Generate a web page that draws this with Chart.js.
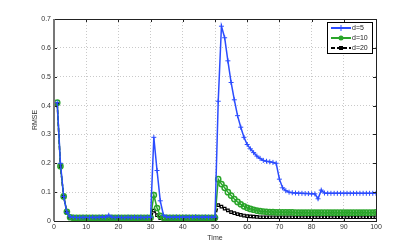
<!DOCTYPE html>
<html>
<head>
<meta charset="utf-8">
<script src="https://cdn.jsdelivr.net/npm/chart.js@4.4.0/dist/chart.umd.min.js"></script>
<style>
  html, body { margin: 0; padding: 0; background: #fff; }
  #wrap { width: 415px; height: 249px; }
</style>
</head>
<body>
<div id="wrap"><canvas id="rmse-chart" width="415" height="249"></canvas></div>
<script>
const timeSteps = [
    1, 2, 3, 4, 5, 6, 7, 8, 9, 10, 11, 12, 13, 14, 15, 16, 17, 18, 19, 20,
    21, 22, 23, 24, 25, 26, 27, 28, 29, 30, 31, 32, 33, 34, 35, 36, 37, 38, 39, 40,
    41, 42, 43, 44, 45, 46, 47, 48, 49, 50, 51, 52, 53, 54, 55, 56, 57, 58, 59, 60,
    61, 62, 63, 64, 65, 66, 67, 68, 69, 70, 71, 72, 73, 74, 75, 76, 77, 78, 79, 80,
    81, 82, 83, 84, 85, 86, 87, 88, 89, 90, 91, 92, 93, 94, 95, 96, 97, 98, 99, 100
];

const seriesNames = ['d=5', 'd=10', 'd=20'];

const rmseD5 = [
    0.41, 0.20, 0.085, 0.03, 0.015, 0.013, 0.012, 0.012, 0.013, 0.012,
    0.012, 0.013, 0.012, 0.013, 0.014, 0.013, 0.02, 0.013, 0.012, 0.013,
    0.012, 0.012, 0.013, 0.012, 0.013, 0.012, 0.013, 0.012, 0.013, 0.013,
    0.29, 0.175, 0.07, 0.02, 0.014, 0.013, 0.013, 0.014, 0.013, 0.013,
    0.014, 0.013, 0.013, 0.015, 0.013, 0.013, 0.014, 0.013, 0.013, 0.013,
    0.415, 0.675, 0.635, 0.555, 0.48, 0.42, 0.365, 0.325, 0.29, 0.265,
    0.25, 0.237, 0.225, 0.217, 0.21, 0.207, 0.205, 0.203, 0.2, 0.145,
    0.115, 0.105, 0.1, 0.098, 0.097, 0.096, 0.096, 0.095, 0.095, 0.094,
    0.094, 0.077, 0.107, 0.097, 0.096, 0.096, 0.096, 0.096, 0.096, 0.096,
    0.096, 0.096, 0.096, 0.096, 0.096, 0.096, 0.096, 0.096, 0.096, 0.096
];

const rmseD10 = [
    0.41, 0.19, 0.085, 0.032, 0.013, 0.011, 0.011, 0.011, 0.011, 0.011,
    0.011, 0.011, 0.011, 0.011, 0.011, 0.011, 0.011, 0.011, 0.011, 0.011,
    0.011, 0.011, 0.011, 0.011, 0.011, 0.011, 0.011, 0.011, 0.011, 0.011,
    0.09, 0.045, 0.018, 0.012, 0.011, 0.011, 0.011, 0.011, 0.011, 0.011,
    0.011, 0.011, 0.011, 0.011, 0.011, 0.011, 0.011, 0.011, 0.011, 0.011,
    0.145, 0.128, 0.115, 0.1, 0.088, 0.076, 0.066, 0.058, 0.051, 0.046,
    0.042, 0.039, 0.036, 0.034, 0.033, 0.032, 0.031, 0.031, 0.03, 0.03,
    0.03, 0.03, 0.03, 0.03, 0.029, 0.029, 0.029, 0.029, 0.029, 0.029,
    0.029, 0.029, 0.029, 0.029, 0.029, 0.029, 0.029, 0.029, 0.029, 0.029,
    0.029, 0.029, 0.029, 0.029, 0.029, 0.029, 0.029, 0.029, 0.029, 0.03
];

const rmseD20 = [
    0.405, 0.19, 0.085, 0.03, 0.01, 0.008, 0.008, 0.008, 0.008, 0.008,
    0.008, 0.008, 0.008, 0.008, 0.008, 0.008, 0.008, 0.008, 0.008, 0.008,
    0.008, 0.008, 0.008, 0.008, 0.008, 0.008, 0.008, 0.008, 0.008, 0.008,
    0.036, 0.02, 0.01, 0.008, 0.008, 0.008, 0.008, 0.008, 0.008, 0.008,
    0.008, 0.008, 0.008, 0.008, 0.008, 0.008, 0.008, 0.008, 0.008, 0.008,
    0.055, 0.05, 0.043, 0.037, 0.031, 0.027, 0.024, 0.021, 0.019, 0.017,
    0.016, 0.015, 0.014, 0.013, 0.013, 0.013, 0.013, 0.013, 0.013, 0.013,
    0.013, 0.013, 0.013, 0.013, 0.013, 0.013, 0.013, 0.013, 0.013, 0.013,
    0.013, 0.013, 0.013, 0.013, 0.013, 0.013, 0.013, 0.013, 0.013, 0.013,
    0.013, 0.013, 0.013, 0.013, 0.013, 0.013, 0.013, 0.013, 0.013, 0.013
];

const BLUE = '#2b4cff';
const GREEN = '#2aa52a';
const BLACK = '#000000';
const FONT = { family: 'Liberation Sans, Arial, sans-serif', size: 7 };

function toPoints(values) {
    return values.map((v, i) => ({ x: timeSteps[i], y: v }));
}

/* =============================================================================
BOX AROUND THE PLOT + LEGEND (matlab style)
============================================================================= */

const matlabFrame = {
    id: 'matlabFrame',
    afterDraw(chart) {
        const ctx = chart.ctx;
        const a = chart.chartArea;
        ctx.save();
        ctx.strokeStyle = '#222';
        ctx.lineWidth = 1;
        ctx.strokeRect(a.left + 0.5, a.top + 0.5, a.right - a.left, a.bottom - a.top);

        // small inward tick marks
        ctx.beginPath();
        chart.scales.x.ticks.forEach(t => {
            const px = Math.round(chart.scales.x.getPixelForValue(t.value)) + 0.5;
            ctx.moveTo(px, a.bottom); ctx.lineTo(px, a.bottom - 3);
            ctx.moveTo(px, a.top); ctx.lineTo(px, a.top + 3);
        });
        chart.scales.y.ticks.forEach(t => {
            const py = Math.round(chart.scales.y.getPixelForValue(t.value)) + 0.5;
            ctx.moveTo(a.left, py); ctx.lineTo(a.left + 3, py);
            ctx.moveTo(a.right, py); ctx.lineTo(a.right - 3, py);
        });
        ctx.stroke();

        ctx.strokeStyle = '#777';
        ctx.lineWidth = 2;
        ctx.beginPath();
        ctx.moveTo(a.left, a.top);
        ctx.lineTo(a.left, a.bottom);
        ctx.stroke();

        // legend
        const lx = a.right - 49, ly = a.top + 3, lw = 45, lh = 31;
        ctx.fillStyle = '#fff';
        ctx.fillRect(lx, ly, lw, lh);
        ctx.strokeStyle = '#000';
        ctx.lineWidth = 1;
        ctx.strokeRect(lx + 0.5, ly + 0.5, lw, lh);
        ctx.font = '7px ' + FONT.family;
        ctx.textBaseline = 'middle';
        chart.data.datasets.forEach((ds, i) => {
            const y = ly + 6 + i * 10;
            const x0 = lx + 4, x1 = lx + 24, xm = (x0 + x1) / 2;
            ctx.strokeStyle = ds.borderColor;
            ctx.lineWidth = 2;
            ctx.setLineDash(ds.borderDash || []);
            ctx.beginPath();
            ctx.moveTo(x0, y);
            ctx.lineTo(x1, y);
            ctx.stroke();
            ctx.setLineDash([]);
            ctx.lineWidth = 1;
            if (ds.pointStyle === 'cross') {
                ctx.beginPath();
                ctx.moveTo(xm - 3, y); ctx.lineTo(xm + 3, y);
                ctx.moveTo(xm, y - 3); ctx.lineTo(xm, y + 3);
                ctx.stroke();
            } else if (ds.pointStyle === 'circle') {
                ctx.fillStyle = GREEN;
                ctx.beginPath();
                ctx.arc(xm, y, 2.5, 0, Math.PI * 2);
                ctx.fill();
            } else {
                ctx.fillStyle = '#000';
                ctx.fillRect(xm - 2, y - 2, 4, 4);
            }
            ctx.fillStyle = '#222';
            ctx.textAlign = 'left';
            ctx.fillText(ds.label, x1 + 1, y);
        });
        ctx.restore();
    }
};

const ctx = document.getElementById('rmse-chart').getContext('2d');

const rmseChart = new Chart(ctx, {
    type: 'line',
    data: {
        datasets: [
            {
                label: seriesNames[0],
                data: toPoints(rmseD5),
                borderColor: BLUE,
                backgroundColor: BLUE,
                borderWidth: 1.5,
                pointStyle: 'cross',
                pointRadius: 2.5,
                pointBorderWidth: 1,
                pointBorderColor: BLUE
            },
            {
                label: seriesNames[1],
                data: toPoints(rmseD10),
                borderColor: GREEN,
                backgroundColor: 'rgba(0,0,0,0)',
                borderWidth: 1.5,
                pointStyle: 'circle',
                pointRadius: 2.6,
                pointBorderWidth: 1.5,
                pointBorderColor: GREEN
            },
            {
                label: seriesNames[2],
                data: toPoints(rmseD20),
                borderColor: BLACK,
                backgroundColor: '#fff',
                borderWidth: 1.5,
                borderDash: [4, 2],
                pointStyle: 'rect',
                pointRadius: 1.8,
                pointBorderWidth: 1.2,
                pointBorderColor: BLACK
            }
        ]
    },
    options: {
        responsive: false,
        animation: false,
        layout: { padding: { top: 19, right: 39, left: 31, bottom: 7 } },
        plugins: {
            legend: { display: false },
            tooltip: { enabled: false }
        },
        scales: {
            x: {
                type: 'linear',
                min: 0,
                max: 100,
                ticks: { stepSize: 10, color: '#333', font: FONT, padding: 2 },
                grid: { color: '#bbb', drawTicks: false, lineWidth: 0.8 },
                border: { display: false, dash: [1, 2] },
                title: { display: true, text: 'Time', color: '#333', font: FONT, padding: { top: 1, bottom: 0 } },
                afterFit(scale) { scale.height = 21; }
            },
            y: {
                min: 0,
                max: 0.7,
                ticks: { stepSize: 0.1, color: '#333', font: FONT, padding: 3 },
                grid: { color: '#bbb', drawTicks: false, lineWidth: 0.8 },
                border: { display: false, dash: [1, 2] },
                title: { display: true, text: 'RMSE', color: '#333', font: FONT, padding: { top: 0, bottom: 0 } },
                afterFit(scale) { scale.width = 23; }
            }
        }
    },
    plugins: [matlabFrame]
});
</script>
</body>
</html>
